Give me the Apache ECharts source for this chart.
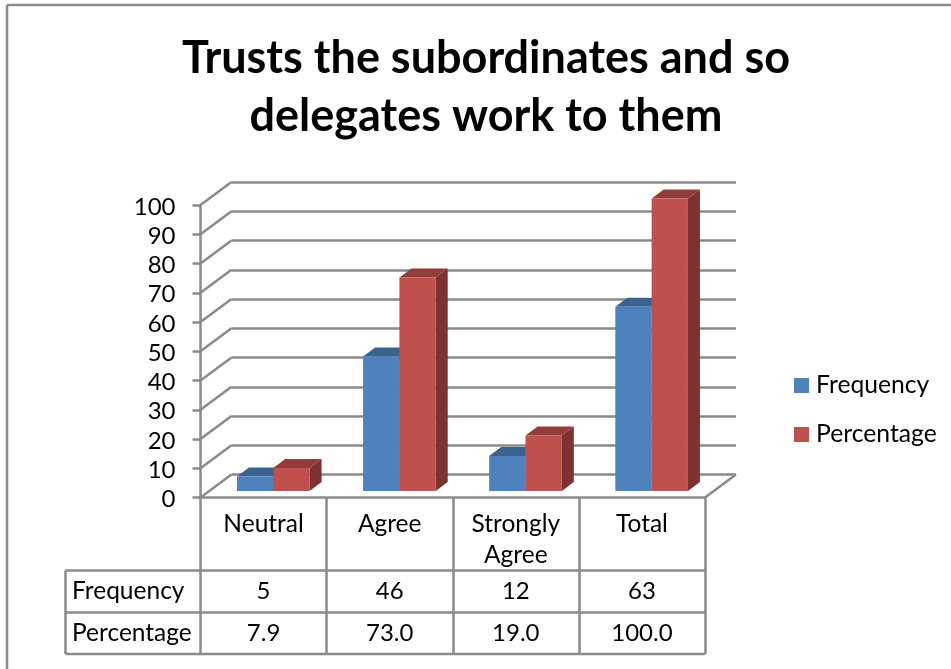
<!DOCTYPE html>
<html>
<head>
<meta charset="utf-8">
<title>Trusts the subordinates</title>
<script src="https://cdn.jsdelivr.net/npm/echarts@6/dist/echarts.min.js"></script>
<style>
html,body{margin:0;padding:0;background:#fff;}
#main{width:951px;height:669px;}
</style>
</head>
<body>
<div id="main"></div>
<script>
var categories = ['Neutral', 'Agree', 'Strongly\nAgree', 'Total'];
var frequency = [5, 46, 12, 63];
var percentage = [7.9, 73.0, 19.0, 100.0];
var yTicks = [0, 10, 20, 30, 40, 50, 60, 70, 80, 90, 100];
var titleText = 'Trusts the subordinates and so\ndelegates work to them';

var chart = echarts.init(document.getElementById('main'));
var fontName = 'Lato';
var lineColor = '#8a8a8a';
var lineW = 2.5;

// front plane of the plot
var plotLeft = 200.5, plotTop = 205, plotW = 504.5, plotH = 292.5;
// how far the back wall sits from the front
var wallX = 31, wallY = -23;
// bars stand a little way in, and have their own depth
var barShiftX = 9.7, barShiftY = -6.5, depthX = 12, depthY = -9;
var barRatio = 0.288;
// table rows
var tableLeft = 65.5, rowY = [570.5, 612.5, 654];

function barRender(seriesIndex, front, topFace, side) {
    return function (params, api) {
        var p = api.coord([api.value(0), api.value(1)]);
        var base = api.coord([api.value(0), 0]);
        var band = api.size([1, 0])[0];
        var w = band * barRatio;
        var x0 = p[0] + barShiftX - (seriesIndex === 0 ? w : 0);
        var x1 = x0 + w;
        var y0 = p[1] + barShiftY;
        var y1 = base[1] + barShiftY;
        return {
            type: 'group',
            children: [
                {type: 'polygon', shape: {points: [[x1, y0], [x1 + depthX, y0 + depthY], [x1 + depthX, y1 + depthY], [x1, y1]]}, style: {fill: side}},
                {type: 'polygon', shape: {points: [[x0, y0], [x0 + depthX, y0 + depthY], [x1 + depthX, y0 + depthY], [x1, y0]]}, style: {fill: topFace}},
                {type: 'rect', shape: {x: x0, y: y0, width: w, height: y1 - y0}, style: {fill: front}}
            ]
        };
    };
}

function hLine(x1, y1, x2, y2) {
    return {type: 'line', shape: {x1: x1, y1: y1, x2: x2, y2: y2}, style: {stroke: lineColor, lineWidth: lineW}, silent: true};
}

function cellText(x, y, s, align, size) {
    return {type: 'text', x: x, y: y, silent: true, style: {text: s, fill: '#000', font: size + 'px ' + fontName, align: align, verticalAlign: 'middle'}};
}

var graphics = [
    // outer chart border
    hLine(7, 5, 951, 5),
    hLine(7, 5, 7, 669),
    // table outline
    hLine(tableLeft, rowY[0], plotLeft + plotW, rowY[0]),
    hLine(tableLeft, rowY[1], plotLeft + plotW, rowY[1]),
    hLine(tableLeft, rowY[2], plotLeft + plotW, rowY[2]),
    hLine(tableLeft, rowY[0], tableLeft, rowY[2]),
    cellText(72, (rowY[0] + rowY[1]) / 2, 'Frequency', 'left', 24.5),
    cellText(72, (rowY[1] + rowY[2]) / 2, 'Percentage', 'left', 24.5)
];
categories.forEach(function (c, i) {
    var cx = plotLeft + (i + 0.5) * plotW / categories.length;
    graphics.push(cellText(cx, (rowY[0] + rowY[1]) / 2, String(frequency[i]), 'center', 24));
    graphics.push(cellText(cx, (rowY[1] + rowY[2]) / 2, percentage[i].toFixed(1), 'center', 24));
});

var option = {
    backgroundColor: '#fff',
    animation: false,
    title: {
        text: titleText,
        left: 481,
        top: 24,
        textAlign: 'center',
        textStyle: {fontFamily: fontName, fontSize: 45, fontWeight: 'bold', color: '#000', lineHeight: 58}
    },
    legend: {
        orient: 'vertical',
        left: 789,
        top: 368,
        icon: 'rect',
        itemWidth: 15,
        itemHeight: 15,
        itemGap: 24,
        data: ['Frequency', 'Percentage'],
        textStyle: {fontFamily: fontName, fontSize: 24.7, color: '#000', padding: [0, 0, 0, 2]}
    },
    grid: [
        {left: plotLeft, top: plotTop, width: plotW, height: plotH},
        {left: plotLeft + wallX, top: plotTop + wallY, width: plotW, height: plotH}
    ],
    xAxis: [
        {
            type: 'category',
            data: categories,
            gridIndex: 0,
            axisLine: {lineStyle: {color: lineColor, width: lineW}},
            axisTick: {show: true, length: rowY[2] - plotTop - plotH, lineStyle: {color: lineColor, width: lineW}},
            axisLabel: {interval: 0, margin: 11, fontFamily: fontName, fontSize: 24.5, color: '#000', lineHeight: 31, verticalAlign: 'top'}
        },
        {
            type: 'category',
            data: categories,
            gridIndex: 1,
            axisLine: {show: false},
            axisTick: {show: false},
            axisLabel: {show: false}
        }
    ],
    yAxis: [
        {
            type: 'value',
            gridIndex: 0,
            min: yTicks[0],
            max: yTicks[yTicks.length - 1],
            interval: 10,
            axisLine: {show: true, lineStyle: {color: lineColor, width: lineW}},
            axisTick: {show: true, length: 8, lineStyle: {color: lineColor, width: lineW}},
            axisLabel: {
                margin: 25,
                formatter: '{n|{value}}',
                rich: {n: {fontFamily: fontName, fontSize: 24, color: '#000', padding: [4, 0, 0, 0]}}
            },
            splitLine: {show: false}
        },
        {
            type: 'value',
            gridIndex: 1,
            min: yTicks[0],
            max: yTicks[yTicks.length - 1],
            interval: 10,
            axisLine: {show: false},
            axisTick: {show: false},
            axisLabel: {show: false},
            splitLine: {show: true, lineStyle: {color: lineColor, width: lineW}}
        }
    ],
    series: [
        {
            // side wall and floor diagonals, one per tick
            type: 'custom',
            name: 'walls',
            silent: true,
            z: 1,
            clip: false,
            xAxisIndex: 0,
            yAxisIndex: 0,
            encode: {x: 0, y: 1},
            data: yTicks.map(function (t) { return [0, t]; }),
            renderItem: function (params, api) {
                var p = api.coord([0, api.value(1)]);
                var x = params.coordSys.x;
                var lines = [hLine(x, p[1], x + wallX, p[1] + wallY)];
                if (api.value(1) === 0) {
                    lines.push(hLine(x + plotW, p[1], x + plotW + wallX, p[1] + wallY));
                }
                return {type: 'group', children: lines};
            }
        },
        {
            type: 'custom',
            name: 'Frequency',
            z: 3,
            clip: false,
            itemStyle: {color: '#4f81bd'},
            encode: {x: 0, y: 1},
            data: frequency.map(function (v, i) { return [i, v]; }),
            renderItem: barRender(0, '#4f81bd', '#3c6290', '#345578')
        },
        {
            type: 'custom',
            name: 'Percentage',
            z: 4,
            clip: false,
            itemStyle: {color: '#c0504d'},
            encode: {x: 0, y: 1},
            data: percentage.map(function (v, i) { return [i, v]; }),
            renderItem: barRender(1, '#c0504d', '#933d3b', '#7d3130')
        }
    ],
    graphic: graphics
};

option && chart.setOption(option);
window.addEventListener('resize', function () {
    chart.resize();
});
</script>
</body>
</html>
